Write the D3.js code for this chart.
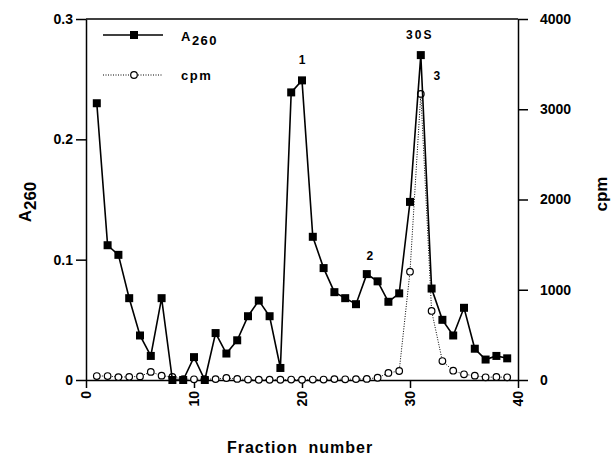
<!DOCTYPE html>
<html>
<head>
<meta charset="utf-8">
<script src="https://cdn.jsdelivr.net/npm/d3@7"></script>
<style>
  body { margin: 0; background: #fff; }
  text { font-family: "Liberation Sans", Arial, sans-serif; font-weight: bold; fill: #000; }
</style>
</head>
<body>
<div id="chart"></div>
<script>
// fraction numbers 1..39
let fractions = d3.range(1, 40);

// A260 absorbance (left axis)
let a260 = [0.230, 0.112, 0.104, 0.068, 0.037, 0.020, 0.068, 0.000, 0.000, 0.019,
            0.000, 0.039, 0.022, 0.033, 0.053, 0.066, 0.053, 0.010, 0.239, 0.249,
            0.119, 0.093, 0.073, 0.068, 0.063, 0.088, 0.082, 0.065, 0.072, 0.148,
            0.270, 0.076, 0.050, 0.037, 0.060, 0.026, 0.017, 0.020, 0.018];

// radioactivity (right axis)
let cpm = [44, 44, 32, 35, 40, 90, 48, 33, 10, 8,
           10, 10, 22, 12, 5, 3, 3, 3, 5, 3,
           5, 5, 10, 8, 10, 12, 25, 78, 100, 1200,
           3170, 765, 210, 103, 63, 48, 30, 33, 30];

let xTicks = [0, 10, 20, 30, 40];
let leftTicks = [0, 0.1, 0.2, 0.3];
let rightTicks = [0, 1000, 2000, 3000, 4000];

let peakLabels = [
  { text: "1", f: 20, dx: 0, dy: -16 },
  { text: "2", f: 26, dx: 3, dy: -14 },
  { text: "30S", f: 31, dx: -1, dy: -16 },
  { text: "3", f: 31, dx: 16, dy: 25 }
];

let dim = { width: 616, height: 456 };
let plot = { left: 86, right: 518, top: 19, bottom: 380 };

let x = d3.scaleLinear().domain([0, 40]).range([plot.left, plot.right]);
let yA = d3.scaleLinear().domain([0, 0.3]).range([plot.bottom, plot.top]);
let yC = d3.scaleLinear().domain([0, 4000]).range([plot.bottom, plot.top]);

let svg = d3.select("#chart").append("svg")
    .attr("width", dim.width)
    .attr("height", dim.height);

// frame top line
svg.append("line")
    .attr("x1", plot.left).attr("x2", plot.right)
    .attr("y1", plot.top).attr("y2", plot.top)
    .attr("stroke", "#000").attr("stroke-width", 1.5);

let xAxis = d3.axisBottom(x).tickValues(xTicks).tickSize(8).tickSizeOuter(0);
let gx = svg.append("g")
    .attr("class", "x axis")
    .attr("transform", "translate(0," + plot.bottom + ")")
    .call(xAxis);
gx.selectAll("text")
    .attr("transform", "rotate(-90)")
    .attr("x", -11).attr("y", 0).attr("dy", ".35em")
    .style("text-anchor", "end")
    .style("font-size", "14px");

let gl = svg.append("g")
    .attr("class", "y axis")
    .attr("transform", "translate(" + plot.left + ",0)")
    .call(d3.axisLeft(yA).tickValues(leftTicks).tickSize(10).tickSizeOuter(0)
        .tickFormat(d => d === 0 ? "0" : d3.format(".1f")(d)));
gl.selectAll("text").attr("x", -13).style("font-size", "14px");

let gr = svg.append("g")
    .attr("class", "y axis right")
    .attr("transform", "translate(" + plot.right + ",0)")
    .call(d3.axisRight(yC).tickValues(rightTicks).tickSize(10).tickSizeOuter(0)
        .tickFormat(d3.format("d")));
gr.selectAll("text").attr("x", 22).style("font-size", "14px");

svg.selectAll(".axis path, .axis line")
    .attr("stroke", "#000").attr("stroke-width", 1.5);
svg.selectAll(".axis text").attr("fill", "#000").style("font-family", null);

// cpm dotted series
svg.append("path")
    .datum(cpm)
    .attr("fill", "none")
    .attr("stroke", "#000")
    .attr("stroke-width", 1)
    .attr("stroke-dasharray", "1,1.5")
    .attr("d", d3.line().x((d, i) => x(fractions[i])).y(d => yC(d)));

svg.append("g").selectAll("circle")
    .data(cpm)
    .join("circle")
    .attr("cx", (d, i) => x(fractions[i]))
    .attr("cy", d => yC(d))
    .attr("r", 3.3)
    .attr("fill", "#fff")
    .attr("stroke", "#000")
    .attr("stroke-width", 1.2);

// A260 solid series
svg.append("path")
    .datum(a260)
    .attr("fill", "none")
    .attr("stroke", "#000")
    .attr("stroke-width", 1.6)
    .attr("d", d3.line().x((d, i) => x(fractions[i])).y(d => yA(d)));

svg.append("g").selectAll("rect")
    .data(a260)
    .join("rect")
    .attr("x", (d, i) => x(fractions[i]) - 4)
    .attr("y", d => yA(d) - 4)
    .attr("width", 8)
    .attr("height", 8)
    .attr("fill", "#000");

// peak labels
svg.append("g").selectAll("text")
    .data(peakLabels)
    .join("text")
    .attr("x", d => x(d.f) + d.dx)
    .attr("y", d => yA(a260[d.f - 1]) + d.dy)
    .attr("text-anchor", "middle")
    .style("font-size", "12px")
    .style("letter-spacing", d => d.text.length > 1 ? "2px" : null)
    .text(d => d.text);

// legend
let legend = svg.append("g");
legend.append("line")
    .attr("x1", 103).attr("x2", 163).attr("y1", 35).attr("y2", 35)
    .attr("stroke", "#000").attr("stroke-width", 1.6);
legend.append("rect")
    .attr("x", 130).attr("y", 31).attr("width", 8).attr("height", 8)
    .attr("fill", "#000");
let la = legend.append("text").attr("x", 181).attr("y", 41).style("font-size", "13px")
    .style("letter-spacing", "1.5px");
la.append("tspan").text("A");
la.append("tspan").attr("dy", 4).text("260");

legend.append("line")
    .attr("x1", 103).attr("x2", 163).attr("y1", 75).attr("y2", 75)
    .attr("stroke", "#000").attr("stroke-width", 1)
    .attr("stroke-dasharray", "1,1.5");
legend.append("circle")
    .attr("cx", 134).attr("cy", 75).attr("r", 3.3)
    .attr("fill", "#fff").attr("stroke", "#000").attr("stroke-width", 1.2);
legend.append("text").attr("x", 181).attr("y", 80).style("font-size", "13px")
    .style("letter-spacing", "1.5px")
    .text("cpm");

// axis titles
let ta = svg.append("text")
    .attr("transform", "translate(31,202) rotate(-90)")
    .attr("text-anchor", "middle")
    .style("font-size", "17px");
ta.append("tspan").text("A");
ta.append("tspan").attr("dy", 5).text("260");

svg.append("text")
    .attr("transform", "translate(607,194) rotate(-90)")
    .attr("text-anchor", "middle")
    .style("font-size", "17px")
    .text("cpm");

svg.append("text")
    .attr("x", 300).attr("y", 453)
    .attr("text-anchor", "middle")
    .style("font-size", "16px")
    .style("letter-spacing", "1px")
    .style("word-spacing", "5px")
    .text("Fraction number");
</script>
</body>
</html>
